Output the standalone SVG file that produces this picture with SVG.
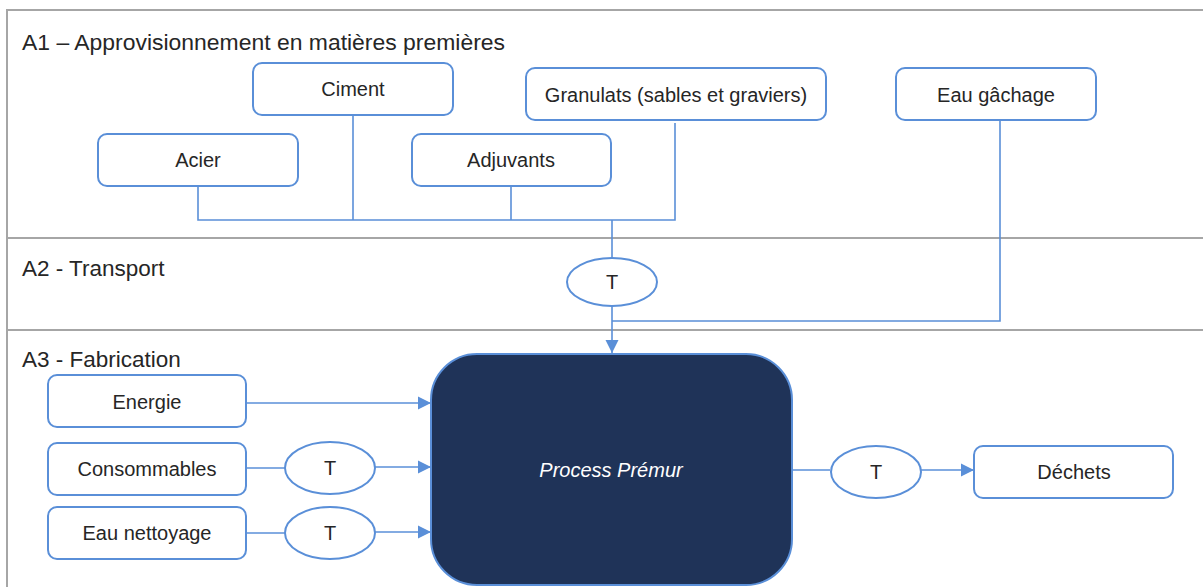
<svg xmlns="http://www.w3.org/2000/svg" width="1203" height="587" viewBox="0 0 1203 587">
<style>
.frame{stroke:#A6A6A6;stroke-width:2;fill:none}
.box{fill:#FFFFFF;stroke:#5A8FD8;stroke-width:2}
.ell{fill:#FFFFFF;stroke:#5A8FD8;stroke-width:2}
.conn{fill:none;stroke:#5A8FD8;stroke-width:1.6}
.lbl{font-family:"Liberation Sans",Arial,sans-serif;font-size:20px;fill:#262626;text-anchor:middle;dominant-baseline:central}
.sec{font-family:"Liberation Sans",Arial,sans-serif;font-size:22.5px;fill:#262626}
.proc{fill:#1F3358;stroke:#5A8FD8;stroke-width:2}
.ptxt{font-family:"Liberation Sans",Arial,sans-serif;font-size:20px;font-style:italic;fill:#FFFFFF;text-anchor:middle;dominant-baseline:central}
</style>
<defs>
<marker id="arr" markerWidth="14" markerHeight="14" refX="13" refY="7" orient="auto" markerUnits="userSpaceOnUse">
<path d="M0,0.5 L13,7 L0,13.5 Z" fill="#5A8FD8"/>
</marker>
</defs>
<rect width="1203" height="587" fill="#FFFFFF"/>
<g id="frame">
<path class="frame" d="M7,587 V10 H1203"/>
<line class="frame" x1="7" y1="238" x2="1203" y2="238"/>
<line class="frame" x1="7" y1="330" x2="1203" y2="330"/>
<text class="sec" x="22" y="50" textLength="483" lengthAdjust="spacingAndGlyphs">A1 – Approvisionnement en matières premières</text>
<text class="sec" x="22" y="276">A2 - Transport</text>
<text class="sec" x="22" y="367">A3 - Fabrication</text>
</g>
<g id="connectors">
<polyline class="conn" points="198,186 198,220 675,220 675,123"/>
<line class="conn" x1="353" y1="115" x2="353" y2="220"/>
<line class="conn" x1="511" y1="186" x2="511" y2="220"/>
<line class="conn" x1="612" y1="220" x2="612" y2="258"/>
<line class="conn" x1="612" y1="306" x2="612" y2="353" marker-end="url(#arr)"/>
<polyline class="conn" points="1000,120 1000,321 612,321"/>
<line class="conn" x1="246" y1="403" x2="431" y2="403" marker-end="url(#arr)"/>
<line class="conn" x1="246" y1="468" x2="285" y2="468"/>
<line class="conn" x1="375" y1="467" x2="431" y2="467" marker-end="url(#arr)"/>
<line class="conn" x1="246" y1="533" x2="285" y2="533"/>
<line class="conn" x1="375" y1="532" x2="431" y2="532" marker-end="url(#arr)"/>
<line class="conn" x1="792" y1="470" x2="830" y2="470"/>
<line class="conn" x1="921" y1="470" x2="974" y2="470" marker-end="url(#arr)"/>
</g>
<g id="ciment"><rect class="box" x="253" y="63" width="200" height="52" rx="9"/><text class="lbl" x="353" y="89">Ciment</text></g>
<g id="granulats"><rect class="box" x="526" y="68" width="300" height="52" rx="9"/><text class="lbl" x="676" y="95">Granulats (sables et graviers)</text></g>
<g id="eau-gachage"><rect class="box" x="896" y="68" width="200" height="52" rx="9"/><text class="lbl" x="996" y="95">Eau gâchage</text></g>
<g id="acier"><rect class="box" x="98" y="134" width="200" height="52" rx="9"/><text class="lbl" x="198" y="160">Acier</text></g>
<g id="adjuvants"><rect class="box" x="412" y="134" width="199" height="52" rx="9"/><text class="lbl" x="511" y="160">Adjuvants</text></g>
<g id="t-transport"><ellipse class="ell" cx="612" cy="282" rx="45" ry="24"/><text class="lbl" x="612" y="282">T</text></g>
<g id="process"><rect class="proc" x="431" y="354" width="361" height="231" rx="46"/><text class="ptxt" x="611" y="470">Process Prémur</text></g>
<g id="energie"><rect class="box" x="48" y="375" width="198" height="52" rx="9"/><text class="lbl" x="147" y="402">Energie</text></g>
<g id="consommables"><rect class="box" x="48" y="443" width="198" height="52" rx="9"/><text class="lbl" x="147" y="469">Consommables</text></g>
<g id="eau-nettoyage"><rect class="box" x="48" y="507" width="198" height="52" rx="9"/><text class="lbl" x="147" y="533">Eau nettoyage</text></g>
<g id="t-consommables"><ellipse class="ell" cx="330" cy="468" rx="45" ry="26"/><text class="lbl" x="330" y="468">T</text></g>
<g id="t-nettoyage"><ellipse class="ell" cx="330" cy="533" rx="45" ry="26"/><text class="lbl" x="330" y="533">T</text></g>
<g id="t-dechets"><ellipse class="ell" cx="876" cy="472" rx="45" ry="26"/><text class="lbl" x="876" y="472">T</text></g>
<g id="dechets"><rect class="box" x="974" y="446" width="199" height="52" rx="9"/><text class="lbl" x="1074" y="472">Déchets</text></g>
</svg>
